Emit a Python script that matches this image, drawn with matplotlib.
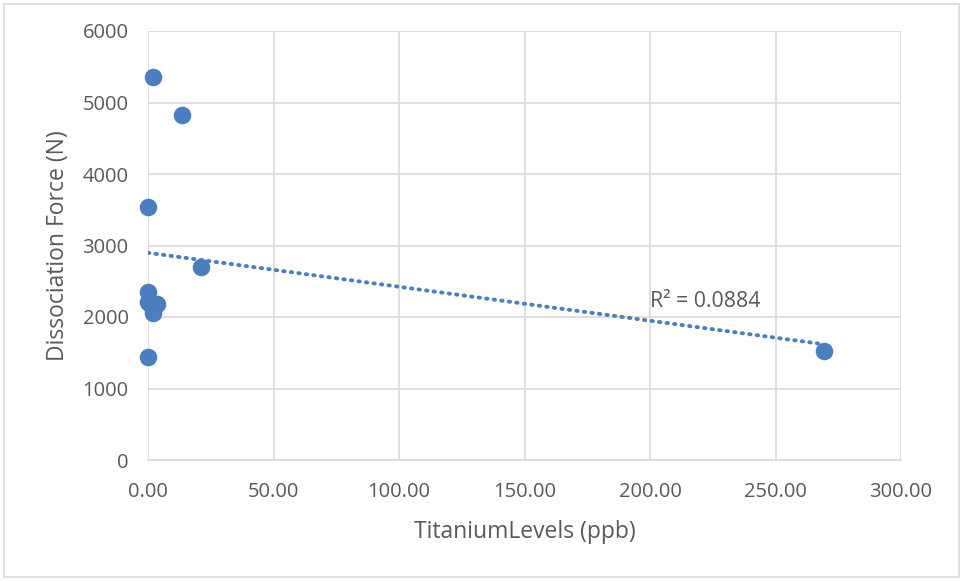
import numpy as np
import matplotlib
matplotlib.use("Agg")
import matplotlib.pyplot as plt
from matplotlib.patches import Rectangle

# Titanium levels (ppb) and dissociation force (N) per sample
titanium_ppb = [0.0, 0.0, 0.0, 0.0, 0.3, 3.4, 2.1, 2.1, 13.4, 21.3, 269.4]
force_n = [1445, 3545, 2354, 2214, 2190, 2182, 2060, 5361, 4825, 2695, 1524]

x_ticks = [0, 50, 100, 150, 200, 250, 300]
y_ticks = [0, 1000, 2000, 3000, 4000, 5000, 6000]
r2_label = "R² = 0.0884"

blue = "#4a7ebf"
grid = "#d9d9d9"
text_col = "#595959"
font = ["Open Sans", "DejaVu Sans"]

W, H = 963, 581
fig = plt.figure(figsize=(W / 100, H / 100), dpi=100)
fig.patches.append(Rectangle((4 / W, 4 / H), 955 / W, 573 / H, transform=fig.transFigure,
                             fill=False, edgecolor=grid, linewidth=1.2))

ax = fig.add_axes([148 / W, 1 - 460 / H, (901 - 148) / W, (460 - 31) / H])
ax.set_xlim(0, 300)
ax.set_ylim(0, 6000)
ax.set_xticks(x_ticks)
ax.set_yticks(y_ticks)
ax.set_xticklabels([f"{v:.2f}" for v in x_ticks], fontfamily=font, fontsize=14.5, color=text_col)
ax.set_yticklabels([str(v) for v in y_ticks], fontfamily=font, fontsize=14.5, color=text_col)
ax.tick_params(axis="x", length=0, pad=16)
ax.tick_params(axis="y", length=0, pad=14)
ax.grid(True, color=grid, linewidth=1.2)
ax.set_axisbelow(True)
for side in ["top", "right", "left"]:
    ax.spines[side].set_visible(False)
ax.spines["bottom"].set_color(grid)
ax.spines["bottom"].set_linewidth(1.2)

# linear trendline by least squares
x = np.array(titanium_ppb)
y = np.array(force_n)
slope, intercept = np.polyfit(x, y, 1)
xs = np.array([0.0, x.max()])
ax.plot(xs, slope * xs + intercept, color=blue, linewidth=2.8,
        linestyle=(0, (0.35, 1.6)), dash_capstyle="round", zorder=2)

ax.scatter(x, y, s=160, color=blue, zorder=3, linewidths=0, clip_on=False)

ax.text(200, 2210, r2_label, fontfamily=font, fontsize=15.3, color=text_col,
        ha="left", va="center")

ax.set_xlabel("TitaniumLevels (ppb)", fontfamily=font, fontsize=16.5, color=text_col, labelpad=13)
ax.set_ylabel("Dissociation Force (N)", fontfamily=font, fontsize=16.5, color=text_col, labelpad=9)

fig.savefig("out.png", dpi=100)
